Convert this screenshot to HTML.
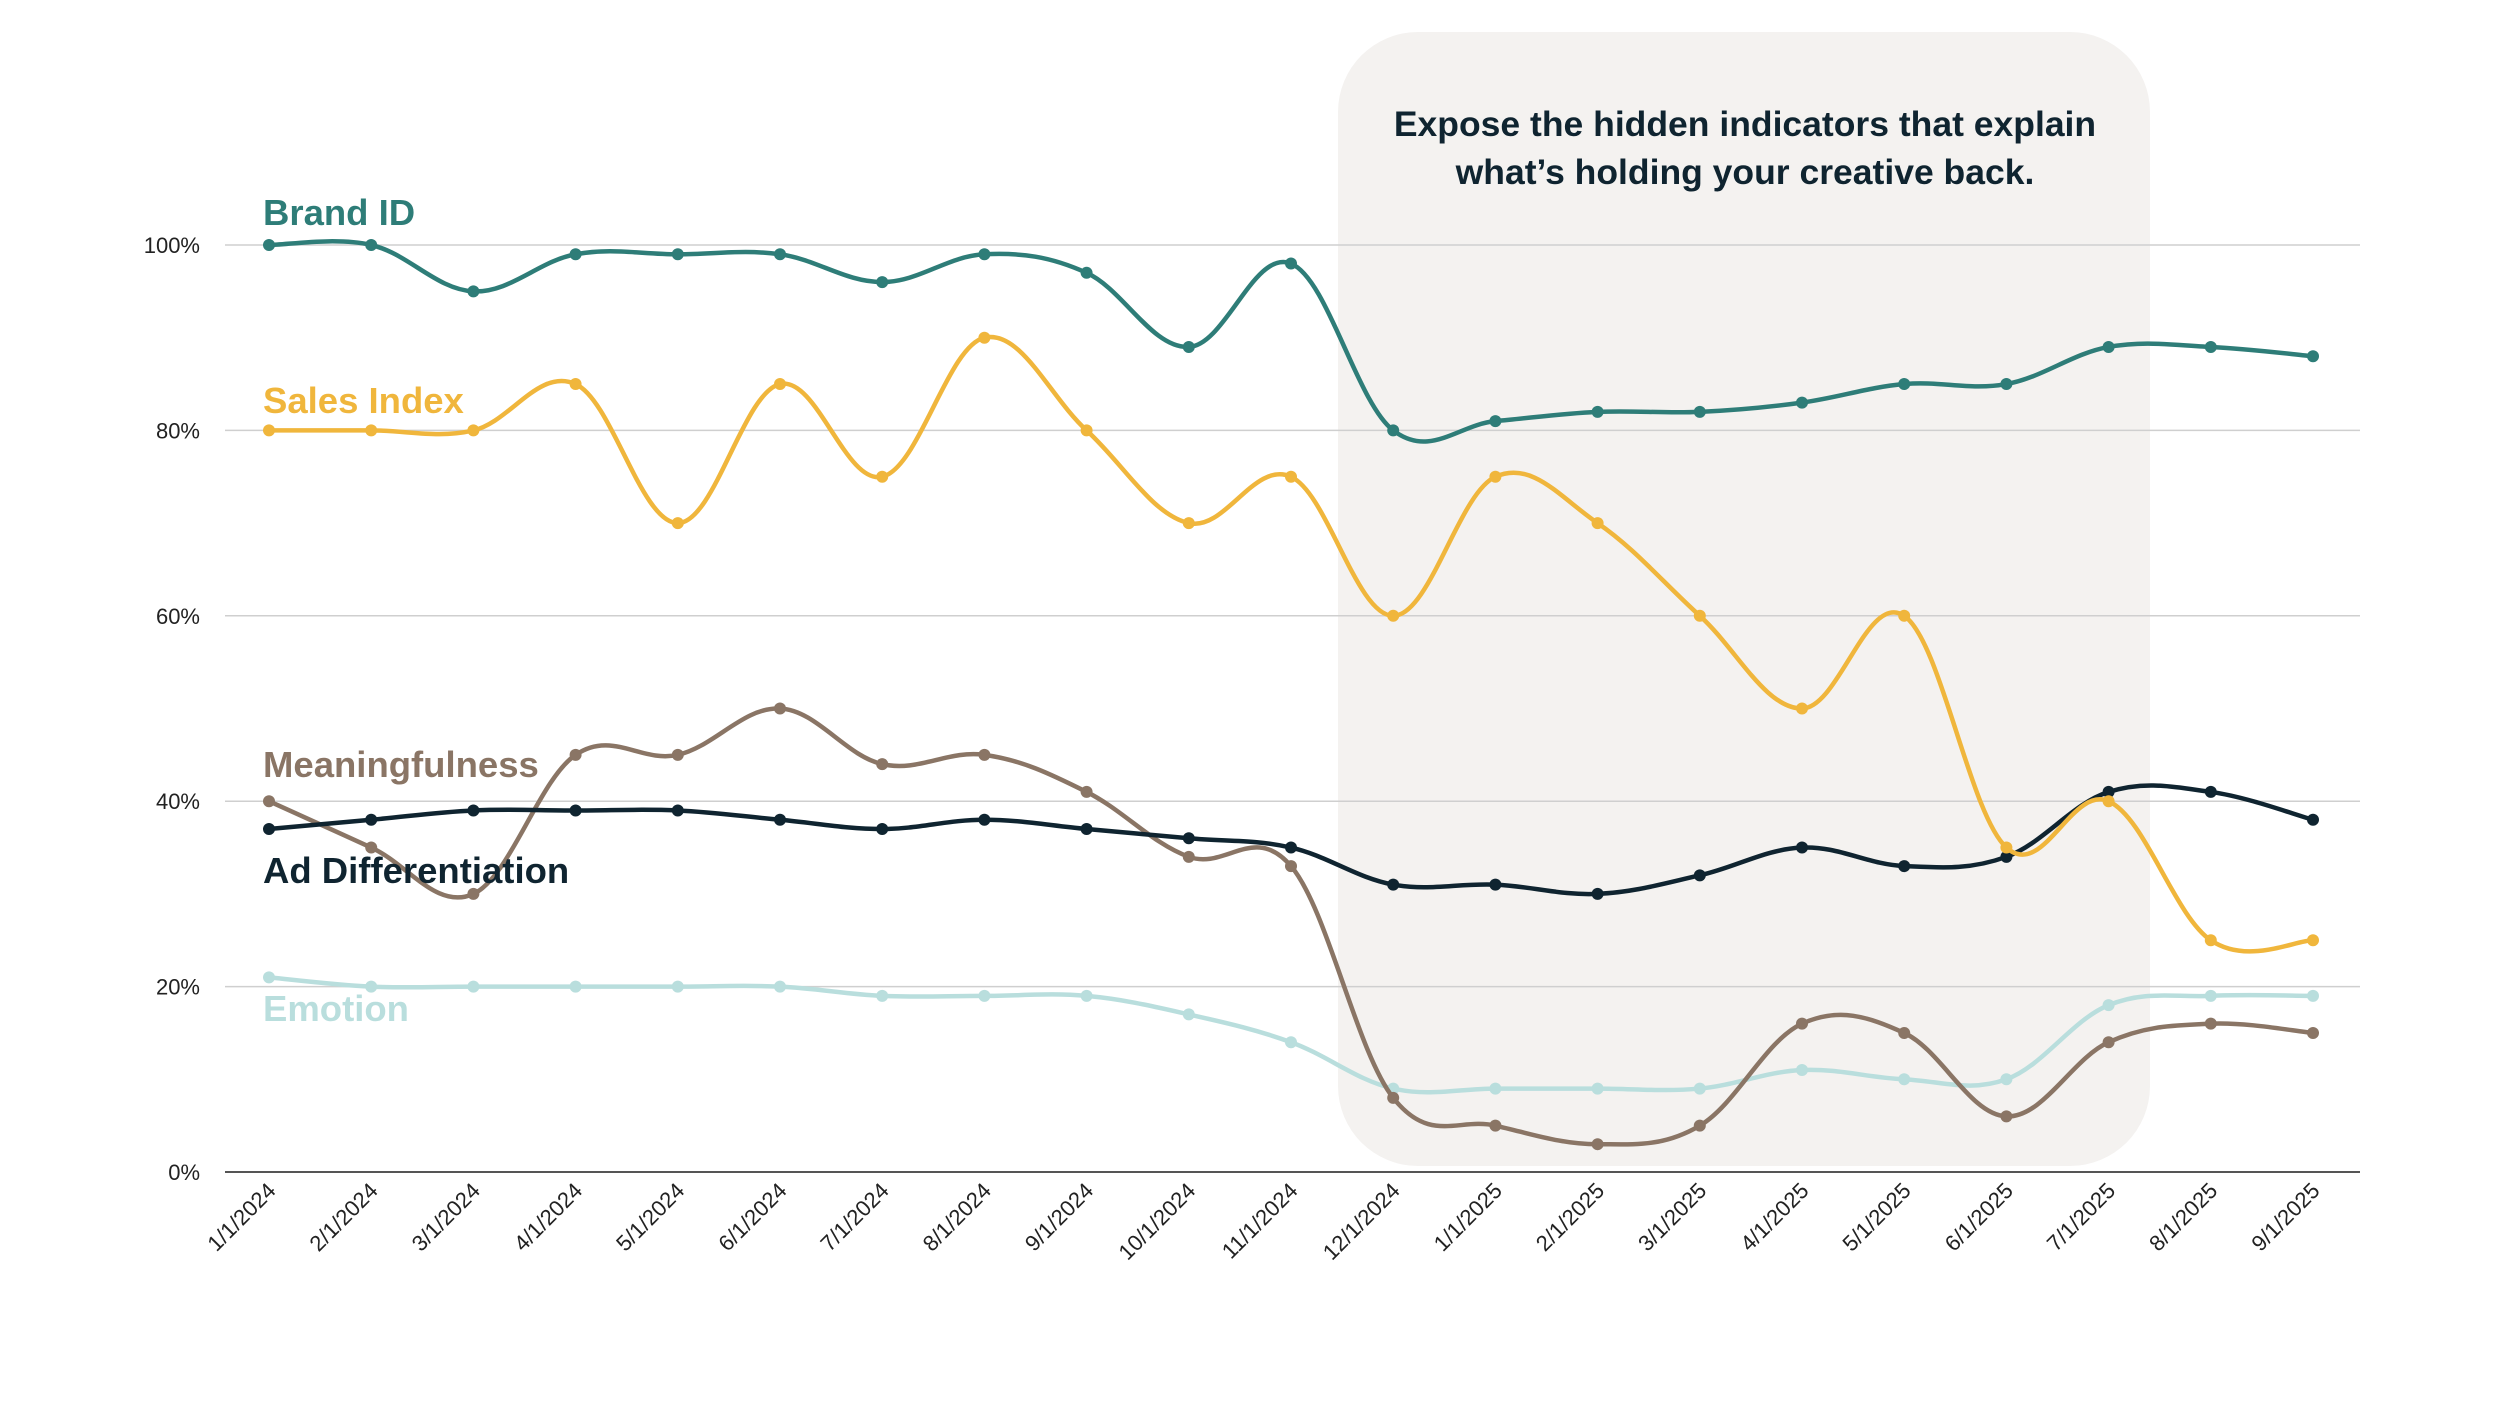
<!DOCTYPE html>
<html><head><meta charset="utf-8">
<style>
html,body{margin:0;padding:0;background:#fff;}
svg{display:block;font-family:"Liberation Sans",sans-serif;}
</style></head>
<body>
<svg id="chart" width="2500" height="1406" viewBox="0 0 2500 1406" xmlns="http://www.w3.org/2000/svg">
<rect x="1338" y="32" width="812" height="1134" rx="80" fill="#f4f2f0"/>
<text x="1745" y="136" text-anchor="middle" font-size="35.5" font-weight="bold" fill="#0f2430">Expose the hidden indicators that explain</text>
<text x="1745" y="184" text-anchor="middle" font-size="35.5" font-weight="bold" fill="#0f2430">what’s holding your creative back.</text>
<g id="grid"></g><g id="series"></g><g id="xlabels"></g>
</svg>
<script>
const categories=["1/1/2024","2/1/2024","3/1/2024","4/1/2024","5/1/2024","6/1/2024","7/1/2024","8/1/2024","9/1/2024","10/1/2024","11/1/2024","12/1/2024","1/1/2025","2/1/2025","3/1/2025","4/1/2025","5/1/2025","6/1/2025","7/1/2025","8/1/2025","9/1/2025"];
const yTicks=[0,20,40,60,80,100];
const brandId=[100,100,95,99,99,99,96,99,97,89,98,80,81,82,82,83,85,85,89,89,88];
const salesIndex=[80,80,80,85,70,85,75,90,80,70,75,60,75,70,60,50,60,35,40,25,25];
const meaningfulness=[40,35,30,45,45,50,44,45,41,34,33,8,5,3,5,16,15,6,14,16,15];
const adDifferentiation=[37,38,39,39,39,38,37,38,37,36,35,31,31,30,32,35,33,34,41,41,38];
const emotion=[21,20,20,20,20,20,19,19,19,17,14,9,9,9,9,11,10,10,18,19,19];
const seriesNames=["Brand ID","Sales Index","Meaningfulness","Ad Differentiation","Emotion"];

const NS="http://www.w3.org/2000/svg";
const X0=269,X1=2313,Y0=1172,Y100=245;
const xs=i=>X0+(X1-X0)*i/(categories.length-1);
const ys=v=>Y0+(Y100-Y0)*v/100;
function mk(tag,attrs,parent){const e=document.createElementNS(NS,tag);for(const k in attrs)e.setAttribute(k,attrs[k]);parent.appendChild(e);return e;}

const grid=document.getElementById('grid');
yTicks.forEach(t=>{
  const l=mk('line',{x1:225,x2:2360,y1:ys(t),y2:ys(t),stroke:t===0?'#555':'#cfcfcf','stroke-width':t===0?2:1.5},grid);
  
  
  const tx=mk('text',{x:200,y:ys(t)+8,'text-anchor':'end','font-size':22,fill:'#222'},grid);
  tx.textContent=t+'%';
  
  
});
const xl=document.getElementById('xlabels');
categories.forEach((c,i)=>{
  const x=xs(i)+8,y=1192;
  const t=mk('text',{x:x,y:y,'text-anchor':'end','font-size':22,fill:'#222',transform:`rotate(-45 ${x} ${y})`},xl);
  t.textContent=c;
  
  
});
function path(vals){
  const p=vals.map((v,i)=>[xs(i),ys(v)]);
  let d=`M${p[0][0]},${p[0][1]}`;const k=0.18;
  for(let i=0;i<p.length-1;i++){
    const a=p[Math.max(0,i-1)],b=p[i],c=p[i+1],e=p[Math.min(p.length-1,i+2)];
    const c1=[b[0]+(c[0]-a[0])*k,b[1]+(c[1]-a[1])*k];
    const c2=[c[0]-(e[0]-b[0])*k,c[1]-(e[1]-b[1])*k];
    d+=`C${c1[0]},${c1[1]} ${c2[0]},${c2[1]} ${c[0]},${c[1]}`;
  }
  return d;
}
const sg=document.getElementById('series');
const defs=[
 [emotion,'#b9dedd','emotion',1021],
 [meaningfulness,'#8a7565','meaningfulness',777],
 [adDifferentiation,'#0f2430','ad-differentiation',883],
 [salesIndex,'#f0b63c','sales-index',413],
 [brandId,'#2e7d78','brand-id',225]
];
const labelIdx={'brand-id':0,'sales-index':1,'meaningfulness':2,'ad-differentiation':3,'emotion':4};
defs.forEach(([vals,col,name,ly])=>{
  const g=mk('g',{},sg);
  
  
  const p=mk('path',{d:path(vals),fill:'none',stroke:col,'stroke-width':4.5},g);
  
  
  vals.forEach((v,i)=>{
    const c=mk('circle',{cx:xs(i),cy:ys(v),r:6,fill:col},g);
    
    
  });
  const t=mk('text',{x:263,y:ly,'font-size':36.5,'font-weight':'bold',fill:col},g);
  t.textContent=seriesNames[labelIdx[name]];
  
  
});
</script>
</body></html>
